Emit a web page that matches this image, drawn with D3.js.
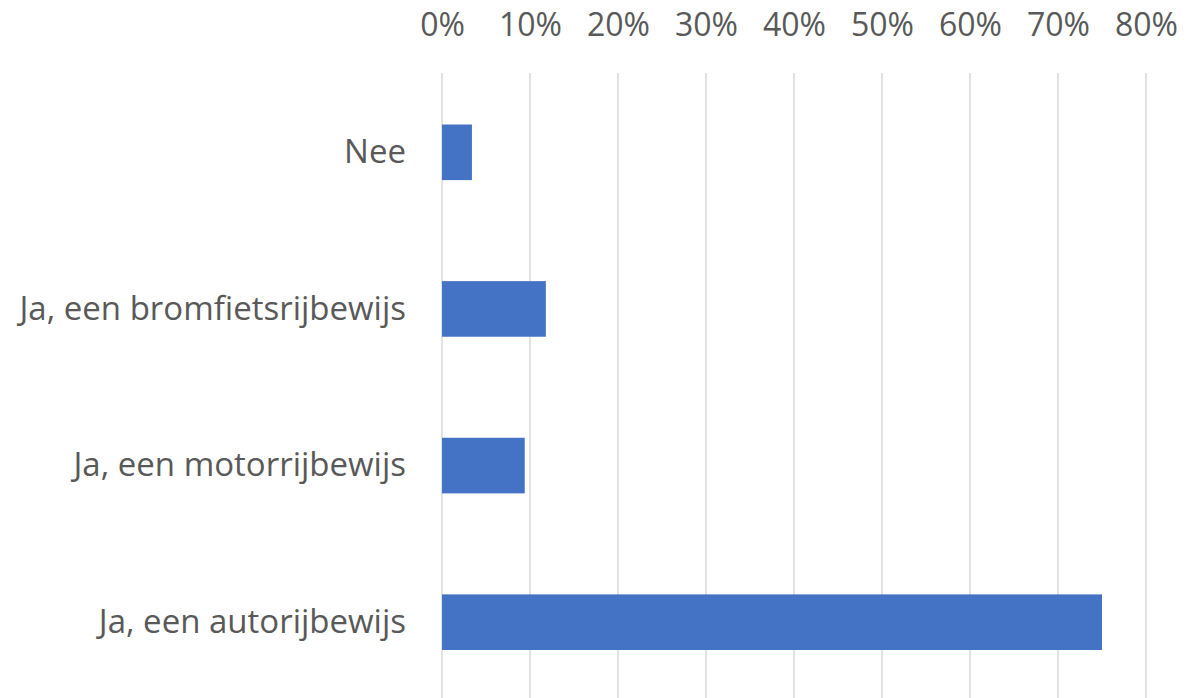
<!DOCTYPE html>
<html>
<head>
<meta charset="utf-8">
<script src="https://cdn.jsdelivr.net/npm/d3@7"></script>
<style>
  html, body { margin: 0; padding: 0; background: #fff; }
  svg { display: block; }
</style>
</head>
<body>
<svg id="chart" width="1204" height="698"></svg>
<script>
const categories = ["Nee", "Ja, een bromfietsrijbewijs", "Ja, een motorrijbewijs", "Ja, een autorijbewijs"];
const values = [0.034, 0.118, 0.094, 0.75];
const tickValues = [0, 0.1, 0.2, 0.3, 0.4, 0.5, 0.6, 0.7, 0.8];

const svg = d3.select("#chart");
const FONT = "'Open Sans', 'Liberation Sans', sans-serif";
const TEXT = "#595959";

const x = d3.scaleLinear().domain([0, 0.8]).range([442, 1146]);
const y = d3.scaleBand().domain(categories).range([74, 700.5]).paddingInner(0.645).paddingOuter(0.3225);

// gridlines
svg.append("g").selectAll("line").data(tickValues).join("line")
  .attr("x1", d => x(d)).attr("x2", d => x(d))
  .attr("y1", 73).attr("y2", 700)
  .attr("stroke", "#D9D9D9").attr("stroke-width", 1.5);

// bars
svg.append("g").selectAll("rect").data(categories).join("rect")
  .attr("x", x(0)).attr("y", d => y(d))
  .attr("width", (d, i) => x(values[i]) - x(0))
  .attr("height", y.bandwidth())
  .attr("fill", "#4472C4");

// top axis
const xAxis = d3.axisTop(x).tickValues(tickValues).tickFormat(d3.format(".0%")).tickSize(0).tickPadding(0);
const gx = svg.append("g").attr("transform", "translate(0,36)").call(xAxis);
gx.select(".domain").remove();
gx.selectAll("text").attr("font-family", FONT).attr("font-size", 32).attr("fill", TEXT).attr("dy", 0);

// left axis
const yAxis = d3.axisLeft(y).tickSize(0).tickPadding(0);
const gy = svg.append("g").attr("transform", "translate(406,0)").call(yAxis);
gy.select(".domain").remove();
gy.selectAll("text").attr("font-family", FONT).attr("font-size", 33).attr("fill", TEXT);
</script>
</body>
</html>
